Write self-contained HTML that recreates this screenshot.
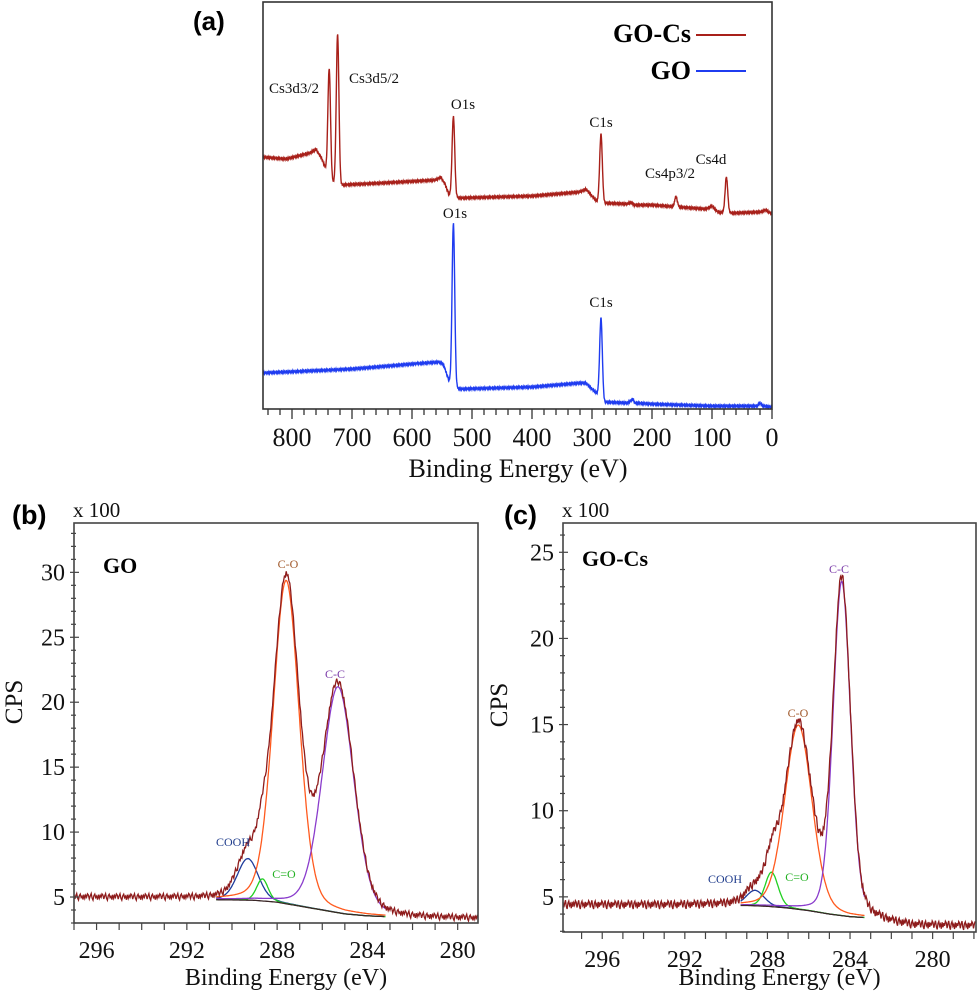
<!DOCTYPE html>
<html><head><meta charset="utf-8"><title>XPS spectra</title>
<style>
html,body{margin:0;padding:0;background:#fff;}
svg{display:block;}
text{font-family:"Liberation Serif",serif;}
.pl{font-family:"Liberation Sans",sans-serif;font-weight:bold;}
</style></head>
<body>
<svg id="fig" width="978" height="998" viewBox="0 0 978 998" xmlns="http://www.w3.org/2000/svg">
<g id="ga"></g>
<g id="gb"></g>
<g id="gc"></g>
</svg>
<script>
// ---------- Panel (a) survey data ----------
const surveyTicks = [800,700,600,500,400,300,200,100,0];
const redBase = [[850,252],[810,250],[770,256],[760,260],[750,250],[745,242],[738,228],[720,224],[650,226],[560,229],[552,232],[545,225],[538,214],[528,212],[520,211],[400,213],[320,217],[310,220],[300,213],[292,208],[280,206],[240,205],[235,207],[230,204],[200,204],[110,200],[100,203],[90,197],[80,196],[60,196],[20,197],[10,199],[0,195]];
const redPeakE = [738,724,531,285,160,76];
const redPeakH = [112,150,80,68,10,36];
const blueBase = [[850,36],[700,40],[600,45],[555,47],[548,45],[538,28],[530,22],[520,20],[400,22],[320,26],[310,26],[300,20],[290,15],[280,7],[240,6],[232,10],[228,6],[200,5],[100,3],[25,3],[20,6],[15,3],[0,2]];
const bluePeakE = [531,285];
const bluePeakH = [163,80];
const surveyPeakSigma = 2.2;
const redLabels = [["Cs3d3/2",294,93],["Cs3d5/2",374,83],["O1s",463,109],["C1s",601,127],["Cs4p3/2",670,178],["Cs4d",711,164]];
const blueLabels = [["O1s",455,218],["C1s",601,307]];
const jitter = [0.6,-0.8,0.3,1.1,-0.5,-1.2,0.4,0.9,-0.3,0.2,-1.0,0.7,-0.6,0.5,-0.2,1.0];

// ---------- Panel (b) GO C1s ----------
const bTicksX = [296,292,288,284,280];
const bTicksY = [5,10,15,20,25,30];
const bBg = [[297.5,5.0],[293,4.9],[291,4.8],[289,4.75],[288,4.6],[287,4.3],[286,4.0],[285,3.7],[284,3.55],[283.3,3.5],[282,3.35],[278,3.3]];
const bNames = ["COOH","C=O","C-O","C-C"];
const bCenters = [289.3,288.65,287.6,285.3];
const bHeights = [3.2,1.7,24.9,17.4];
const bFwhm = [1.1,0.6,1.35,1.65];
const bFitRange = [290.7,283.2];

// ---------- Panel (c) GO-Cs C1s ----------
const cTicksX = [296,292,288,284,280];
const cTicksY = [5,10,15,20,25];
const cBg = [[298.5,4.55],[292,4.5],[289,4.5],[288,4.45],[287,4.35],[286,4.2],[285,4.0],[284,3.85],[283.3,3.8],[282,3.45],[281,3.3],[277,3.3]];
const cNames = ["COOH","C=O","C-O","C-C"];
const cCenters = [288.6,287.8,286.5,284.4];
const cHeights = [0.9,2.0,10.7,19.4];
const cFwhm = [1.0,0.75,1.55,1.0];
const cFitRange = [289.3,283.3];

const compColors = {"COOH":"#1f3c9c","C=O":"#22d022","C-O":"#ff5a1e","C-C":"#8a3ccc"};
const labelColors = {"COOH":"#1f3c8c","C=O":"#22b022","C-O":"#a0582a","C-C":"#7a3aa8"};

const NS="http://www.w3.org/2000/svg";
function mk(parent,tag,attrs,txt){const e=document.createElementNS(NS,tag);for(const k in attrs)e.setAttribute(k,attrs[k]);if(txt!==undefined)e.textContent=txt;parent.appendChild(e);return e;}
function interp(kn,x){
  if(x>=kn[0][0])return kn[0][1];
  for(let i=1;i<kn.length;i++){if(x>=kn[i][0]){const a=kn[i-1],b=kn[i];const t=(x-a[0])/(b[0]-a[0]);return a[1]+t*(b[1]-a[1]);}}
  return kn[kn.length-1][1];
}
function pv(x,c,h,w){const g=Math.exp(-4*Math.LN2*Math.pow((x-c)/w,2));const l=1/(1+4*Math.pow((x-c)/w,2));return h*(0.8*g+0.2*l);}

// ===== Panel A =====
(function(){
  const g=document.getElementById('ga');
  const L=263,R=772,T=2,B=409;
  const eMax=(R-L)/0.6;
  const xs=e=>R-e*0.6;
  const Y=v=>B-v;
  function series(base,pe,ph,color,name){
    let d="";let k=0;
    for(let e=eMax;e>=0;e-=0.5){
      let v=interp(base,e);
      for(let i=0;i<pe.length;i++)v+=ph[i]*Math.exp(-0.5*Math.pow((e-pe[i])/surveyPeakSigma,2));
      v+=jitter[k%jitter.length]*0.9;k++;
      d+=(d?"L":"M")+xs(e).toFixed(1)+","+Y(v).toFixed(1);
    }
    const p=mk(g,'path',{d:d,fill:'none',stroke:color,'stroke-width':1.4});
    
    
  }
  series(redBase,redPeakE,redPeakH,'#a8201a','gocs-survey-line');
  series(blueBase,bluePeakE,bluePeakH,'#1f3cf0','go-survey-line');
  const fr=mk(g,'rect',{x:L,y:T,width:R-L,height:B-T,fill:'none',stroke:'#333','stroke-width':1.6});
  
  
  for(let e=0;e<=eMax;e+=20){
    const major=e%100===0;
    mk(g,'line',{x1:xs(e),x2:xs(e),y1:B,y2:B+(major?10:6),stroke:'#333','stroke-width':1.3});
  }
  surveyTicks.forEach(t=>{
    const tx=mk(g,'text',{x:xs(t),y:446,'font-size':26,'text-anchor':'middle',fill:'#111'},String(t));
    
    
  });
  const xt=mk(g,'text',{x:518,y:477,'font-size':26,'text-anchor':'middle',fill:'#111'},'Binding Energy (eV)');
  
  
  redLabels.concat(blueLabels).forEach(l=>{
    const t=mk(g,'text',{x:l[1],y:l[2],'font-size':15,'text-anchor':'middle',fill:'#111'},l[0]);
    
    
  });
  const pa=mk(g,'text',{x:193,y:30,'font-size':26,'class':'pl',fill:'#000'},'(a)');
  
  
  const l1=mk(g,'text',{x:691,y:42,'font-size':26,'font-weight':'bold','text-anchor':'end',fill:'#000'},'GO-Cs');
  
  
  mk(g,'line',{x1:696,x2:746,y1:35,y2:35,stroke:'#a8201a','stroke-width':2});
  const l2=mk(g,'text',{x:691,y:79,'font-size':26,'font-weight':'bold','text-anchor':'end',fill:'#000'},'GO');
  
  
  mk(g,'line',{x1:696,x2:746,y1:71,y2:71,stroke:'#1f3cf0','stroke-width':2});
})();

// ===== Panels B & C =====
function hiRes(cfg){
  const g=document.getElementById(cfg.id);
  const {L,R,T,B,e0,e1,v0,v1}=cfg;
  const xs=e=>L+(e0-e)*(R-L)/(e0-e1);
  const ys=v=>B-(v-v0)*(B-T)/(v1-v0);
  let d="",k=0;
  for(let e=e0;e>=e1;e-=0.04){
    let v=interp(cfg.bg,e);
    for(let i=0;i<cfg.centers.length;i++)v+=pv(e,cfg.centers[i],cfg.heights[i],cfg.fwhm[i]);
    v+=jitter[k%jitter.length]*0.22;k++;
    d+=(d?"L":"M")+xs(e).toFixed(1)+","+ys(v).toFixed(1);
  }
  cfg.names.forEach((n,i)=>{
    let dd="";
    for(let e=cfg.fit[0];e>=cfg.fit[1];e-=0.03){
      const p=pv(e,cfg.centers[i],cfg.heights[i],cfg.fwhm[i]);
      dd+=(dd?"L":"M")+xs(e).toFixed(1)+","+ys(interp(cfg.bg,e)+p).toFixed(1);
    }
    const c=mk(g,'path',{d:dd,fill:'none',stroke:compColors[n],'stroke-width':1.3});
    
    
  });
  let db="";
  for(let e=cfg.fit[0];e>=cfg.fit[1];e-=0.05)db+=(db?"L":"M")+xs(e).toFixed(1)+","+ys(interp(cfg.bg,e)).toFixed(1);
  const bgp=mk(g,'path',{d:db,fill:'none',stroke:'#3a2626','stroke-width':1.3});
  
  
  const rp=mk(g,'path',{d:d,fill:'none',stroke:'#8e1c1c','stroke-width':1.3});
  
  
  const fr=mk(g,'rect',{x:L,y:T,width:R-L,height:B-T,fill:'none',stroke:'#444','stroke-width':1.6});
  
  
  for(let e=Math.floor(e0);e>=e1;e--){
    mk(g,'line',{x1:xs(e),x2:xs(e),y1:B,y2:B+7,stroke:'#444','stroke-width':1.2});
  }
  for(let v=Math.ceil(v0);v<=v1;v++){
    const major=v%5===0;
    mk(g,'line',{x1:L-(major?4:3),x2:L+(major?5:2),y1:ys(v),y2:ys(v),stroke:'#444','stroke-width':1.2});
  }
  cfg.tx.forEach(t=>{
    const e=mk(g,'text',{x:xs(t),y:B+35,'font-size':24,'text-anchor':'middle',fill:'#111'},String(t));
    
    
  });
  cfg.ty.forEach(t=>{
    const e=mk(g,'text',{x:L-9,y:ys(t)+8,'font-size':24,'text-anchor':'end',fill:'#111'},String(t));
    
    
  });
  const xt=mk(g,'text',{x:(L+R)/2+10,y:985,'font-size':24,'text-anchor':'middle',fill:'#111'},'Binding Energy (eV)');
  
  
  const yt=mk(g,'text',{x:0,y:0,'font-size':25,'text-anchor':'middle',fill:'#111',transform:`translate(${cfg.cpsX},${cfg.cpsY}) rotate(-90)`},'CPS');
  
  
  const sc=mk(g,'text',{x:L-1,y:517,'font-size':21,fill:'#111'},'x 100');
  
  
  const pl=mk(g,'text',{x:cfg.plX,y:524,'font-size':27,'class':'pl',fill:'#000'},cfg.panel);
  
  
  const st=mk(g,'text',{x:cfg.sx,y:cfg.sy,'font-size':22,'font-weight':'bold',fill:'#000'},cfg.sample);
  
  
  cfg.labs.forEach(l=>{
    const t=mk(g,'text',{x:l[1],y:l[2],'font-size':12,'text-anchor':'middle',fill:labelColors[l[0]]},l[0]);
    
    
  });
}
hiRes({id:'gb',L:74,R:478,T:523,B:923,e0:297.0,e1:279.1,v0:3.0,v1:33.8,bg:bBg,names:bNames,centers:bCenters,heights:bHeights,fwhm:bFwhm,fit:bFitRange,tx:bTicksX,ty:bTicksY,cpsX:22,cpsY:702,plX:12,panel:'(b)',sample:'GO',sx:103,sy:573,
  labs:[["C-O",288,568],["C-C",335,678],["COOH",233,846],["C=O",284,878]]});
hiRes({id:'gc',L:563,R:976,T:523,B:932,e0:297.9,e1:277.9,v0:2.96,v1:26.7,bg:cBg,names:cNames,centers:cCenters,heights:cHeights,fwhm:cFwhm,fit:cFitRange,tx:cTicksX,ty:cTicksY,cpsX:507,cpsY:705,plX:504,panel:'(c)',sample:'GO-Cs',sx:582,sy:566,
  labs:[["C-C",839,573],["C-O",798,717],["COOH",725,883],["C=O",797,881]]});
</script>
</body></html>
